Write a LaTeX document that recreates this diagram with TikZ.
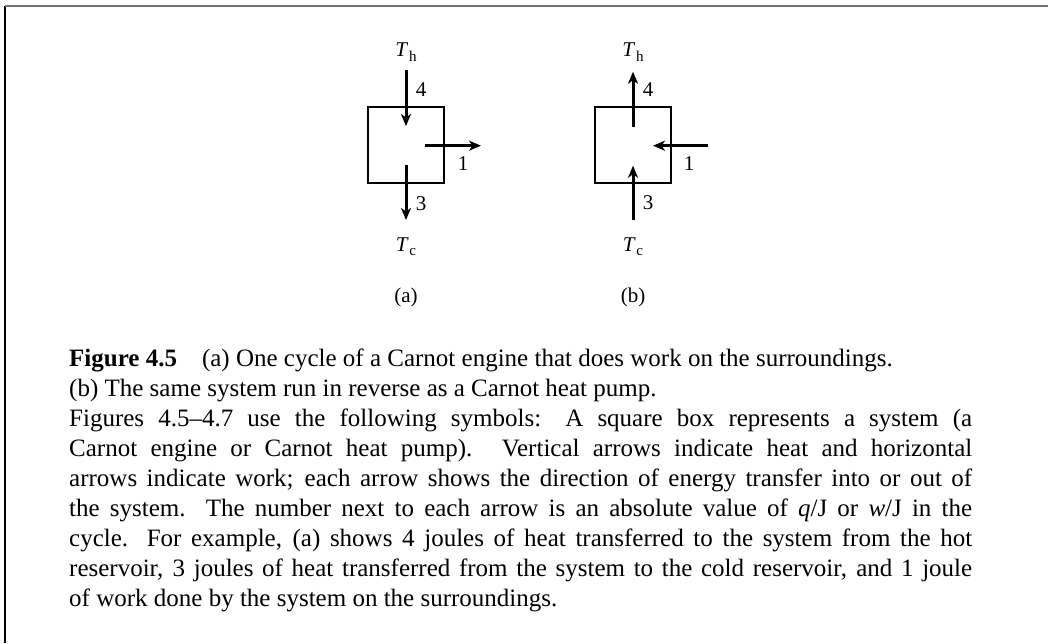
\documentclass[tikz,border=0pt]{standalone}
\usepackage{fontspec}
\setmainfont{Liberation Serif}
\usetikzlibrary{arrows.meta}
\newcommand{\Tsub}[1]{\textit{T}\kern0.03em\raisebox{-0.45ex}{\fontsize{15}{15}\selectfont #1}}
\begin{document}
\begin{tikzpicture}[x=1pt,y=-1pt,
  sysbox/.style={draw, line width=2.6pt, minimum size=76pt, inner sep=0pt},
  flow/.style={line width=3pt, -{Stealth[length=12pt,width=10pt,inset=3.5pt]}},
  lbl/.style={font=\fontsize{21}{22}\selectfont, inner sep=0pt},
  captext/.style={anchor=base west, inner sep=0pt, text width=903pt, align=justify,
    font=\fontsize{25}{30}\selectfont}
  ]
\useasboundingbox (0,0) rectangle (1048,643);
% frame
\coordinate (fbl) at (5,643);
\coordinate (ftl) at (5,5.7);
\coordinate (ftr) at (1048,5.7);
\draw[line width=1.5pt, black] (fbl) -- (ftl);
\draw[line width=2pt, black!55] (ftl) -- (ftr);

% (a) engine
\node[sysbox] (boxa) at (406,145) {};
\node[lbl] (tha) at (406,52) {\Tsub{h}};
\node[lbl] (tca) at (406,247) {\Tsub{c}};
\node[lbl] (capa) at (406,297) {(a)};
\coordinate (a4s) at (406,70);   \coordinate (a4e) at (406,126);
\coordinate (a1s) at (425,145.7);\coordinate (a1e) at (481,145.7);
\coordinate (a3s) at (406,165);  \coordinate (a3e) at (406,220);
\draw[flow] (a4s) -- (a4e);
\draw[flow] (a1s) -- (a1e);
\draw[flow] (a3s) -- (a3e);
\node[lbl] (la4) at (421,90) {4};
\node[lbl] (la1) at (463,164) {1};
\node[lbl] (la3) at (421,204) {3};

% (b) heat pump
\node[sysbox] (boxb) at (633,145) {};
\node[lbl] (thb) at (633,52) {\Tsub{h}};
\node[lbl] (tcb) at (633,247) {\Tsub{c}};
\node[lbl] (capb) at (633,297) {(b)};
\coordinate (b4s) at (633,126.7); \coordinate (b4e) at (633,71.7);
\coordinate (b1s) at (708,145.7); \coordinate (b1e) at (653,145.7);
\coordinate (b3s) at (633,220);   \coordinate (b3e) at (633,165.7);
\draw[flow] (b4s) -- (b4e);
\draw[flow] (b1s) -- (b1e);
\draw[flow] (b3s) -- (b3e);
\node[lbl] (lb4) at (648,90) {4};
\node[lbl] (lb1) at (689,164) {1};
\node[lbl] (lb3) at (648,203) {3};

% caption
\node[captext] (caption) at (69,366) {\textbf{Figure 4.5}\hspace{1em}(a) One cycle of a Carnot engine that does work on the surroundings.\\
(b) The same system run in reverse as a Carnot heat pump.\\
Figures 4.5–4.7 use the following symbols: A square box represents a system (a\linebreak
Carnot engine or Carnot heat pump). Vertical arrows indicate heat and horizontal\linebreak
arrows indicate work; each arrow shows the direction of energy transfer into or out of\linebreak
the system. The number next to each arrow is an absolute value of \textit{q}/J or \textit{w}/J in the\linebreak
cycle. For example, (a) shows 4 joules of heat transferred to the system from the hot\linebreak
reservoir, 3 joules of heat transferred from the system to the cold reservoir, and 1 joule\linebreak
of work done by the system on the surroundings.};
\end{tikzpicture}
\end{document}
